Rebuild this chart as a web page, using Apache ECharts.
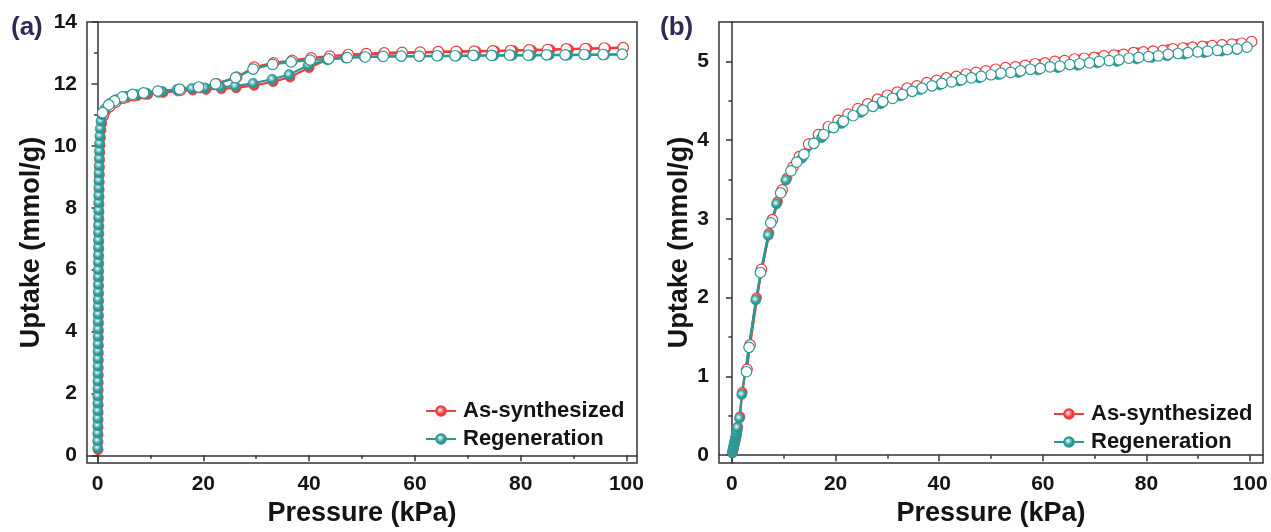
<!DOCTYPE html>
<html>
<head>
<meta charset="utf-8">
<script src="https://cdn.jsdelivr.net/npm/echarts@6/dist/echarts.min.js"></script>
<style>
  html, body { margin: 0; padding: 0; background: #ffffff; }
  #chart { width: 1271px; height: 532px; }
</style>
</head>
<body>
<div id="chart"></div>
<script>
// ---------- Panel (a): uptake isotherms, adsorption (filled) and desorption (open) ----------
const aAsAdsP = [0.10,0.10,0.11,0.11,0.12,0.12,0.13,0.13,0.14,0.14,0.15,0.15,0.16,0.16,0.17,0.17,0.18,0.18,0.19,0.19,0.20,0.20,0.21,0.21,0.22,0.23,0.23,0.24,0.25,0.25,0.26,0.27,0.28,0.29,0.30,0.31,0.33,0.35,0.37,0.40,0.44,0.49,0.56,0.65,
  0.8,1.1,1.6,2.5,3.8,5.6,7.5,9.5,12.4,15.2,18.0,20.5,23.4,26.2,29.6,33.2,36.4,40.0,43.6,47.1,50.6,54.1,57.6,61.1,64.6,68.1,71.6,75.1,78.6,82.1,85.6,89.1,92.6,96.1,99.4];
const aAsAdsQ = [0.18,0.42,0.66,0.90,1.14,1.38,1.62,1.86,2.10,2.34,2.58,2.82,3.06,3.30,3.54,3.78,4.02,4.26,4.50,4.74,4.98,5.22,5.46,5.70,5.94,6.18,6.42,6.66,6.90,7.14,7.38,7.62,7.86,8.10,8.34,8.58,8.82,9.06,9.30,9.54,9.78,10.02,10.26,10.50,
  10.72,10.94,11.14,11.32,11.46,11.56,11.62,11.66,11.72,11.77,11.80,11.82,11.84,11.87,11.95,12.07,12.22,12.52,12.80,12.90,12.95,12.97,12.99,13.01,13.03,13.04,13.05,13.07,13.08,13.09,13.11,13.12,13.14,13.15,13.17];
const aAsDesP = [99.4,95.8,92.2,88.6,85.1,81.6,78.1,74.7,71.2,67.8,64.4,61.0,57.6,54.2,50.8,47.4,43.9,40.4,36.8,33.3,29.6,26.3,22.5,19.3,15.7,11.6,8.9,6.8,4.9,3.4,2.3,1.15];
const aAsDesQ = [13.17,13.16,13.14,13.13,13.11,13.10,13.08,13.07,13.06,13.05,13.04,13.03,13.02,13.00,12.98,12.95,12.90,12.84,12.76,12.68,12.54,12.22,12.00,11.88,11.80,11.74,11.68,11.62,11.54,11.41,11.27,11.00];

const aRegAdsP = [0.02,0.02,0.03,0.03,0.04,0.04,0.05,0.05,0.06,0.06,0.07,0.07,0.08,0.08,0.09,0.09,0.10,0.10,0.11,0.11,0.12,0.12,0.13,0.13,0.14,0.15,0.15,0.16,0.17,0.17,0.18,0.19,0.20,0.21,0.22,0.23,0.25,0.27,0.29,0.31,0.34,0.38,0.43,0.50,
  0.65,0.9,1.4,2.3,3.6,5.4,7.3,9.3,12.2,15.0,17.8,20.3,23.2,26.0,29.4,33.0,36.2,39.8,43.4,46.9,50.4,53.9,57.4,60.9,64.4,67.9,71.4,74.9,78.4,81.9,85.4,88.9,92.4,95.9,99.2];
const aRegAdsQ = [0.24,0.47,0.72,0.96,1.20,1.44,1.69,1.92,2.17,2.40,2.65,2.88,3.13,3.37,3.60,3.85,4.08,4.33,4.56,4.81,5.04,5.29,5.52,5.77,6.00,6.25,6.48,6.73,6.96,7.21,7.44,7.69,7.92,8.17,8.40,8.65,8.88,9.13,9.36,9.60,9.84,10.08,10.32,10.56,
  10.80,11.00,11.20,11.37,11.50,11.60,11.66,11.70,11.76,11.82,11.85,11.87,11.90,11.93,12.02,12.15,12.30,12.60,12.78,12.84,12.87,12.88,12.89,12.89,12.90,12.90,12.91,12.91,12.92,12.92,12.93,12.93,12.94,12.94,12.95];
const aRegDesP = [99.2,95.6,92.0,88.4,84.9,81.4,77.9,74.5,71.0,67.6,64.2,60.8,57.4,54.0,50.6,47.2,43.7,40.2,36.6,33.1,29.4,26.1,22.3,19.1,15.5,11.4,8.7,6.6,4.7,3.2,2.1,0.95];
const aRegDesQ = [12.96,12.95,12.95,12.94,12.94,12.93,12.93,12.92,12.92,12.91,12.91,12.90,12.90,12.89,12.87,12.85,12.81,12.77,12.71,12.63,12.48,12.20,12.00,11.90,11.83,11.77,11.71,11.66,11.58,11.45,11.32,11.07];

// ---------- Panel (b) ----------
const bAsAdsP = [0.12,0.22,0.32,0.42,0.52,0.62,0.72,0.82,0.92,1.02,1.12,1.55,2.0,4.75,7.15,8.8,10.6,13.7,17.5,21.3,25.1,28.9,32.7,36.5,40.3,44.1,47.9,51.7,55.5,59.3,63.1,66.9,70.7,74.5,78.3,81.2,84.2,87.5,91.4,94.7,97.6];
const bAsAdsQ = [0.03,0.06,0.09,0.12,0.15,0.18,0.21,0.24,0.28,0.32,0.36,0.49,0.80,2.00,2.82,3.22,3.52,3.80,4.07,4.25,4.39,4.50,4.59,4.67,4.74,4.79,4.84,4.88,4.92,4.96,4.99,5.02,5.05,5.08,5.11,5.13,5.15,5.17,5.19,5.21,5.22];
const bAsDesP = [100.3,98.4,96.5,94.6,92.7,90.8,88.9,87.0,85.1,83.2,81.3,79.4,77.5,75.6,73.7,71.8,69.9,68.0,66.1,64.2,62.3,60.4,58.5,56.6,54.7,52.8,50.9,49.0,47.1,45.2,43.3,41.4,39.5,37.6,35.7,33.8,31.9,30.0,28.1,26.2,24.3,22.4,20.5,18.6,16.7,14.8,13.0,11.8,9.7,7.8,5.7,3.5,2.9];
const bAsDesQ = [5.25,5.23,5.22,5.21,5.20,5.19,5.18,5.17,5.16,5.14,5.13,5.12,5.11,5.09,5.08,5.07,5.05,5.04,5.03,5.01,5.00,4.98,4.97,4.95,4.93,4.92,4.90,4.88,4.86,4.84,4.81,4.79,4.76,4.73,4.69,4.66,4.61,4.57,4.52,4.46,4.40,4.33,4.25,4.17,4.07,3.95,3.79,3.66,3.37,2.99,2.36,1.40,1.09];

const bRegAdsP = [0.05,0.15,0.25,0.35,0.45,0.55,0.65,0.75,0.85,0.95,1.05,1.45,1.9,4.6,7.0,8.6,10.4,13.5,17.3,21.1,24.9,28.7,32.5,36.3,40.1,43.9,47.7,51.5,55.3,59.1,62.9,66.7,70.5,74.3,78.1,81.0,84.0,87.3,91.2,94.5,97.4];
const bRegAdsQ = [0.03,0.06,0.09,0.12,0.15,0.18,0.21,0.24,0.27,0.31,0.35,0.47,0.77,1.97,2.79,3.19,3.49,3.77,4.03,4.21,4.35,4.46,4.56,4.64,4.70,4.75,4.79,4.83,4.86,4.89,4.92,4.95,4.98,5.00,5.03,5.05,5.07,5.09,5.11,5.13,5.15];
const bRegDesP = [99.4,97.5,95.6,93.7,91.8,89.9,88.0,86.1,84.2,82.3,80.4,78.5,76.6,74.7,72.8,70.9,69.0,67.1,65.2,63.3,61.4,59.5,57.6,55.7,53.8,51.9,50.0,48.1,46.2,44.3,42.4,40.5,38.6,36.7,34.8,32.9,31.0,29.1,27.2,25.3,23.4,21.5,19.6,17.7,15.8,13.9,12.5,11.4,9.4,7.5,5.5,3.3,2.8];
const bRegDesQ = [5.18,5.16,5.15,5.14,5.13,5.12,5.11,5.10,5.09,5.07,5.06,5.05,5.04,5.02,5.01,5.00,4.98,4.97,4.96,4.94,4.93,4.91,4.90,4.88,4.86,4.85,4.83,4.81,4.79,4.77,4.74,4.72,4.69,4.66,4.62,4.58,4.53,4.49,4.43,4.38,4.31,4.24,4.16,4.07,3.96,3.82,3.72,3.61,3.33,2.95,2.32,1.37,1.06];

// ---------- Axis ticks ----------
const xTicks = [0, 20, 40, 60, 80, 100];
const xMinorTicks = [10, 30, 50, 70, 90];
const aYTicks = [0, 2, 4, 6, 8, 10, 12, 14];
const aYMinorTicks = [1, 3, 5, 7, 9, 11, 13];
const bYTicks = [0, 1, 2, 3, 4, 5];
const bYMinorTicks = [0.5, 1.5, 2.5, 3.5, 4.5];

const seriesNames = ['As-synthesized', 'Regeneration'];

const FONT = '"Liberation Sans", Arial, Helvetica, sans-serif';
const INK = '#141414';
const FRAME = '#333333';
const RED = '#f03c3c';
const TEAL = '#2a9894';

function zip(p, q) { return p.map((v, i) => [v, q[i]]); }

// Shaded "ball" fill used for the filled (adsorption) markers
function ballFill(base, mid) {
  return {
    type: 'radial', x: 0.42, y: 0.4, r: 0.62,
    colorStops: [
      { offset: 0, color: '#ffffff' },
      { offset: 0.22, color: mid },
      { offset: 0.6, color: base },
      { offset: 1, color: base }
    ]
  };
}

function lineSeries(name, color, mid, p, q, gi, open) {
  return {
    name: name,
    type: 'line',
    xAxisIndex: gi * 2,
    yAxisIndex: gi * 2,
    data: zip(p, q),
    showAllSymbol: true,
    symbol: 'circle',
    symbolSize: open ? 10.5 : 10,
    lineStyle: { color: color, width: 2.2 },
    itemStyle: open
      ? { color: '#ffffff', borderColor: color, borderWidth: 1.2 }
      : { color: ballFill(color, mid), borderColor: color, borderWidth: 0.6 },
    emphasis: { disabled: true },
    animation: false
  };
}

function xAxes(gi, min, max) {
  const line = { color: FRAME, width: 1.5 };
  return [
    {
      type: 'value', gridIndex: gi, position: 'bottom', min: min, max: max,
      axisLine: { show: true, lineStyle: line },
      axisTick: { show: true, inside: false, length: 6, lineStyle: line, customValues: xTicks },
      axisLabel: { customValues: xTicks, fontSize: 21, fontWeight: 'bold', color: INK, fontFamily: FONT, margin: 11 },
      splitLine: { show: false },
      name: 'Pressure (kPa)', nameLocation: 'middle', nameGap: 34,
      nameTextStyle: { fontSize: 27, fontWeight: 'bold', color: INK, fontFamily: FONT }
    },
    {
      type: 'value', gridIndex: gi, position: 'bottom', min: min, max: max,
      axisLine: { show: false },
      axisTick: { show: true, inside: false, length: 3.5, lineStyle: line, customValues: xMinorTicks },
      axisLabel: { show: false },
      splitLine: { show: false }
    }
  ];
}

function yAxes(gi, min, max, major, minor, gap) {
  const line = { color: FRAME, width: 1.5 };
  return [
    {
      type: 'value', gridIndex: gi, position: 'left', min: min, max: max,
      axisLine: { show: true, lineStyle: line },
      axisTick: { show: true, inside: false, length: 6, lineStyle: line, customValues: major },
      axisLabel: { customValues: major, fontSize: 21, fontWeight: 'bold', color: INK, fontFamily: FONT, margin: 10 },
      splitLine: { show: false },
      name: 'Uptake (mmol/g)', nameLocation: 'middle', nameGap: gap, nameRotate: 90,
      nameTextStyle: { fontSize: 27, fontWeight: 'bold', color: INK, fontFamily: FONT }
    },
    {
      type: 'value', gridIndex: gi, position: 'left', min: min, max: max,
      axisLine: { show: false },
      axisTick: { show: true, inside: false, length: 3.5, lineStyle: line, customValues: minor },
      axisLabel: { show: false },
      splitLine: { show: false }
    }
  ];
}

function legendAt(left, top) {
  return {
    data: seriesNames, orient: 'vertical', left: left, top: top,
    itemWidth: 30, itemHeight: 12, itemGap: 6,
    textStyle: { fontSize: 22, fontWeight: 'bold', color: INK, fontFamily: FONT, padding: [0, 0, 0, 2] },
    selectedMode: false
  };
}

const redMid = '#f7a8a8';
const tealMid = '#9fd6d4';

const option = {
  backgroundColor: '#ffffff',
  animation: false,
  title: [
    { text: '(a)', left: 6, top: 10, textStyle: { fontSize: 26, fontWeight: 'bold', color: '#2e2b55', fontFamily: FONT } },
    { text: '(b)', left: 655, top: 10, textStyle: { fontSize: 26, fontWeight: 'bold', color: '#2e2b55', fontFamily: FONT } }
  ],
  legend: [legendAt(420, 395), legendAt(1048, 398)],
  grid: [
    { left: 87, top: 22, width: 550, height: 445, show: true, borderColor: FRAME, borderWidth: 1.5, containLabel: false },
    { left: 719, top: 22, width: 544, height: 445, show: true, borderColor: FRAME, borderWidth: 1.5, containLabel: false }
  ],
  xAxis: [].concat(xAxes(0, -2, 102), xAxes(1, -2.5, 102.5)),
  yAxis: [].concat(yAxes(0, -0.25, 14, aYTicks, aYMinorTicks, 42), yAxes(1, -0.1, 5.5, bYTicks, bYMinorTicks, 26)),
  series: [
    lineSeries(seriesNames[0], RED, redMid, aAsAdsP, aAsAdsQ, 0, false),
    lineSeries(seriesNames[0], RED, redMid, aAsDesP, aAsDesQ, 0, true),
    lineSeries(seriesNames[1], TEAL, tealMid, aRegAdsP, aRegAdsQ, 0, false),
    lineSeries(seriesNames[1], TEAL, tealMid, aRegDesP, aRegDesQ, 0, true),
    lineSeries(seriesNames[0], RED, redMid, bAsAdsP, bAsAdsQ, 1, false),
    lineSeries(seriesNames[0], RED, redMid, bAsDesP, bAsDesQ, 1, true),
    lineSeries(seriesNames[1], TEAL, tealMid, bRegAdsP, bRegAdsQ, 1, false),
    lineSeries(seriesNames[1], TEAL, tealMid, bRegDesP, bRegDesQ, 1, true)
  ]
};

const chart = echarts.init(document.getElementById('chart'), null, { renderer: 'canvas' });
chart.setOption(option);
</script>
</body>
</html>
